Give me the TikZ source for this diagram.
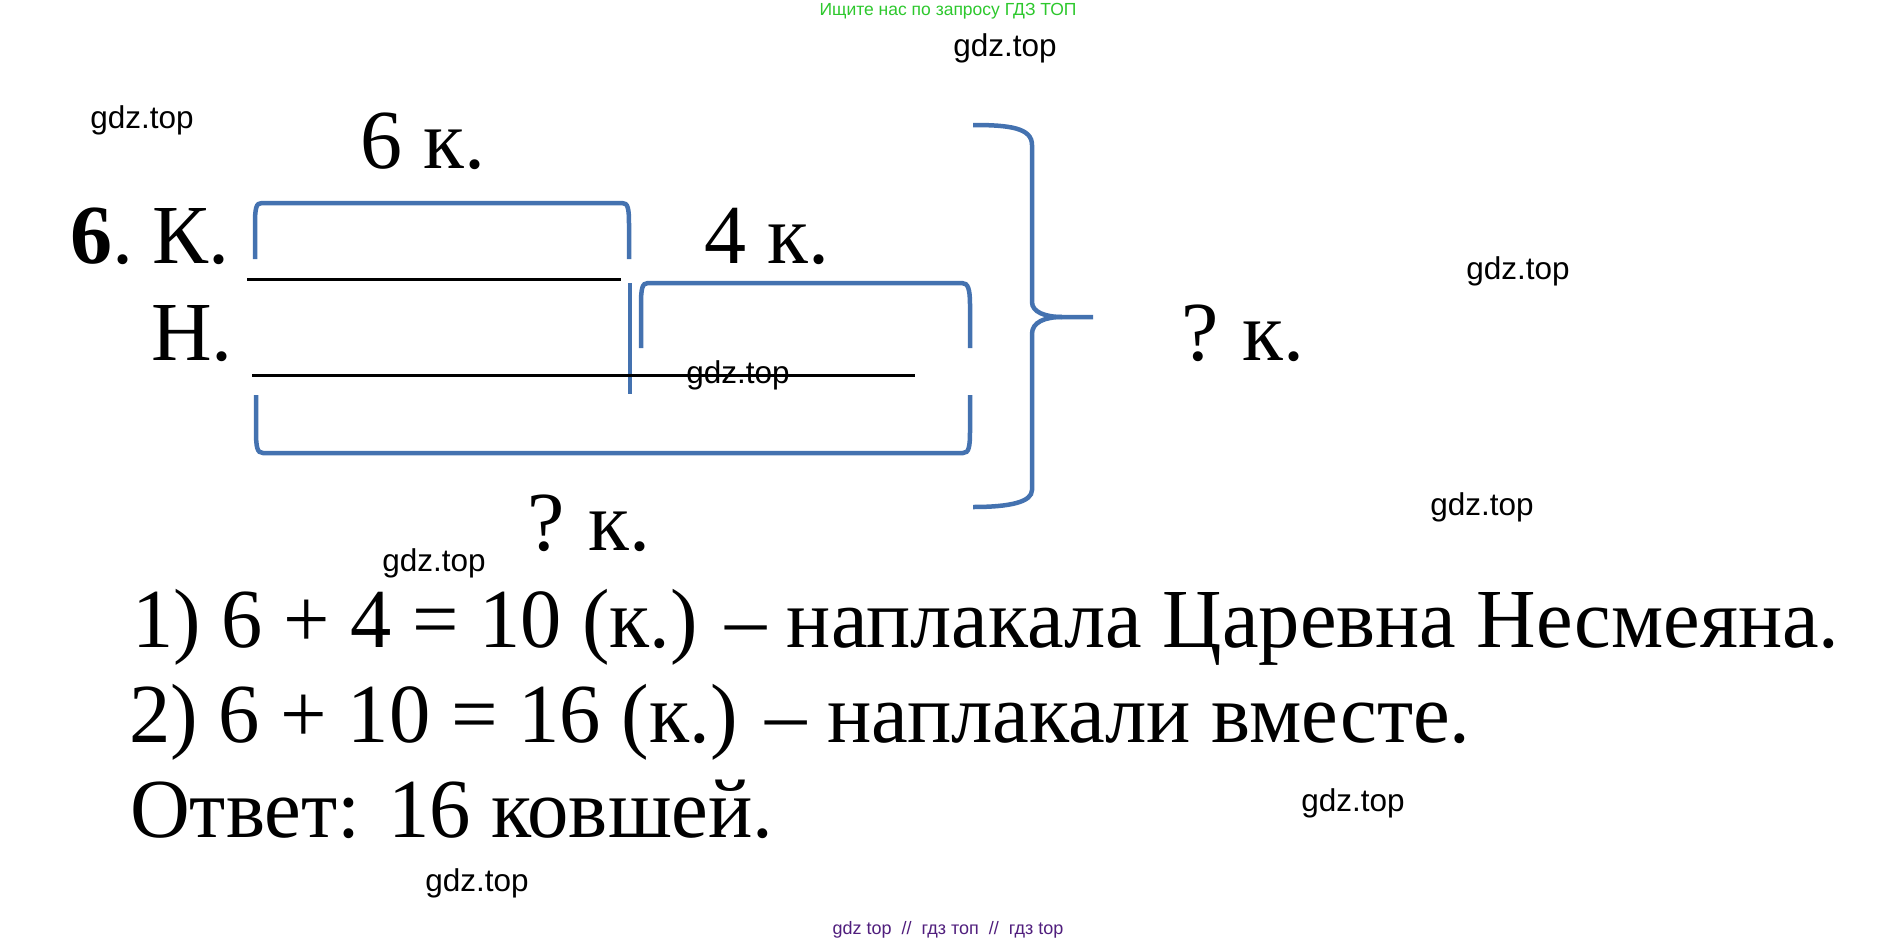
\documentclass[tikz,border=0pt]{standalone}
\usepackage{fontspec}
\setmainfont{Liberation Serif}
\newfontfamily\wmfont{Liberation Sans}
\definecolor{brblue}{RGB}{68,114,176}
\definecolor{wmgreen}{RGB}{45,200,45}
\definecolor{wmpurple}{RGB}{80,30,125}
\begin{document}
\begin{tikzpicture}[x=1pt,y=-1pt,
  lbl/.style={anchor=base west,inner sep=0pt,font=\fontsize{84}{100}\selectfont},
  wm/.style={inner sep=0pt,font=\wmfont\fontsize{31.5}{36}\selectfont},
  br/.style={draw=brblue,line width=4.5pt},
  seg/.style={draw=black,line width=3pt}]
\useasboundingbox[fill=white] (0,0) rectangle (1898,945);

% brackets
\draw[br] (255,259) -- (255,225) .. controls (255,208) and (256,203) .. (262,203) -- (622,203) .. controls (628,203) and (629,208) .. (629,225) -- (629,259);
\draw[br] (641,348) -- (641,305) .. controls (641,289) and (642,283) .. (648,283) -- (962,283) .. controls (968,283) and (970,289) .. (970,305) -- (970,348);
\draw[br] (630,283) -- (630,394);
\draw[br] (256,395) -- (256,430) .. controls (256,447) and (257,453) .. (263,453) -- (963,453) .. controls (969,453) and (970,447) .. (970,430) -- (970,395);
% big brace
\draw[br] (973,125) .. controls (1010,125) and (1032,128) .. (1032,145) -- (1032,302) .. controls (1032,312) and (1045,317) .. (1062,317) -- (1093,317);
\draw[br] (1062,317) .. controls (1045,317) and (1032,322) .. (1032,334) -- (1032,490) .. controls (1032,502) and (1010,507) .. (973,507);

% segments
\draw[seg] (247,279) -- (621,279);
\draw[seg] (252,375) -- (915,375);

% labels
\node[lbl] (six) at (70,263) {\textbf{6}.};
\node[lbl] (k) at (152,263) {К.};
\node[lbl] (n) at (151,360) {Н.};
\node[lbl] (sixk) at (360,168) {6 к.};
\node[lbl] (fourk) at (704,263) {4 к.};
\node[lbl] (qright) at (1181,360) {?\hspace{24pt}к.};
\node[lbl] (qbottom) at (527,550) {?\hspace{24pt}к.};

\node[lbl] (l1) at (132,647) {\scalebox{0.981}[1]{1) 6 + 4 = 10 (к.) – наплакала Царевна Несмеяна.}};
\node[lbl] (l2) at (129,742) {\scalebox{0.984}[1]{2) 6 + 10 = 16 (к.) – наплакали вместе.}};
\node[lbl] (l3) at (130,837) {\scalebox{0.985}[1]{Ответ: 16 ковшей.}};

% watermarks
\node[inner sep=0pt,font=\wmfont\fontsize{17.5}{20}\selectfont,text=wmgreen] (top) at (948,11) {Ищите нас по запросу ГДЗ ТОП};
\node[wm] (w1) at (142,120) {gdz.top};
\node[wm] (w2) at (1005,48) {gdz.top};
\node[wm] (w3) at (1518,271) {gdz.top};
\node[wm] (w4) at (738,375) {gdz.top};
\node[wm] (w5) at (1482,507) {gdz.top};
\node[wm] (w6) at (434,563) {gdz.top};
\node[wm] (w7) at (1353,803) {gdz.top};
\node[wm] (w8) at (477,883) {gdz.top};
\node[inner sep=0pt,font=\wmfont\fontsize{18}{20}\selectfont,text=wmpurple] (foot) at (948,930) {gdz top \ // \ гдз топ \ // \ гдз top};
\end{tikzpicture}
\end{document}
